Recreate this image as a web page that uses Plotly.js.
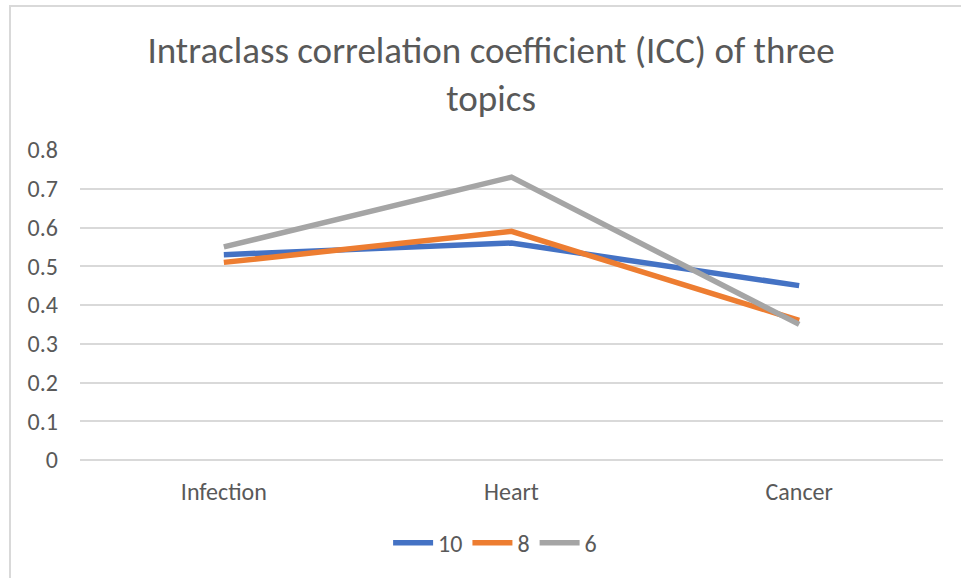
<!DOCTYPE html>
<html>
<head>
<meta charset="utf-8">
<script src="https://cdn.plot.ly/plotly-3.0.1.min.js"></script>
<style>
html,body{margin:0;padding:0;background:#fff;}
#wrap{position:relative;width:961px;height:578px;}
#chart{position:absolute;left:0;top:0;width:961px;height:578px;}
#bt{position:absolute;left:9px;top:5px;width:952px;height:2px;background:#d9d9d9;}
#bl{position:absolute;left:9px;top:5px;width:2px;height:573px;background:#d9d9d9;}
</style>
</head>
<body>
<div id="wrap"><div id="chart"></div><div id="bt"></div><div id="bl"></div></div>
<script>
const categories = ["Infection", "Heart", "Cancer"];
const series10 = [0.53, 0.56, 0.45];
const series8 = [0.51, 0.59, 0.36];
const series6 = [0.55, 0.73, 0.35];
const seriesNames = ["10", "8", "6"];
const yTicks = [0, 0.1, 0.2, 0.3, 0.4, 0.5, 0.6, 0.7, 0.8];
const yTickLabels = ["0", "0.1", "0.2", "0.3", "0.4", "0.5", "0.6", "0.7", "0.8"];

const colors = ["#4472C4", "#ED7D31", "#A5A5A5"];
const data = [series10, series8, series6].map((v, i) => ({
  x: categories, y: v, type: "scatter", mode: "lines", name: seriesNames[i],
  line: {color: colors[i], width: 5.5}
}));

const font = "Calibri, Carlito, 'Open Sans', sans-serif";
const layout = {
  width: 961, height: 578,
  margin: {l: 80, r: 18, t: 150, b: 118},
  paper_bgcolor: "rgba(0,0,0,0)", plot_bgcolor: "rgba(0,0,0,0)",
  font: {family: font, color: "#595959", size: 24},
  title: {
    text: "Intraclass correlation coefficient (ICC) of three<br>topics",
    font: {family: font, size: 37, color: "#595959"},
    x: 0.511, xanchor: "center", xref: "container",
    y: 0.891, yanchor: "top", yref: "container"
  },
  xaxis: {
    type: "category", range: [-0.5, 2.5], showgrid: false, zeroline: false,
    showline: false, ticks: "", ticklabelstandoff: 15,
    tickfont: {family: font, size: 24, color: "#595959"}
  },
  yaxis: {
    range: [0, 0.8], tickvals: yTicks, ticktext: yTickLabels,
    showgrid: true, gridcolor: "#d9d9d9", gridwidth: 1.5, zeroline: true,
    zerolinecolor: "#d9d9d9", zerolinewidth: 1.5, showline: false, ticks: "",
    ticklabelstandoff: 21,
    tickfont: {family: font, size: 24, color: "#595959"}
  },
  showlegend: true,
  legend: {
    orientation: "h", x: 0.481, xanchor: "center", y: -0.268, yanchor: "middle",
    font: {family: font, size: 24, color: "#595959"}, itemwidth: 40, tracegroupgap: 0
  }
};
Plotly.newPlot("chart", data, layout, {displayModeBar: false});
</script>
</body>
</html>
